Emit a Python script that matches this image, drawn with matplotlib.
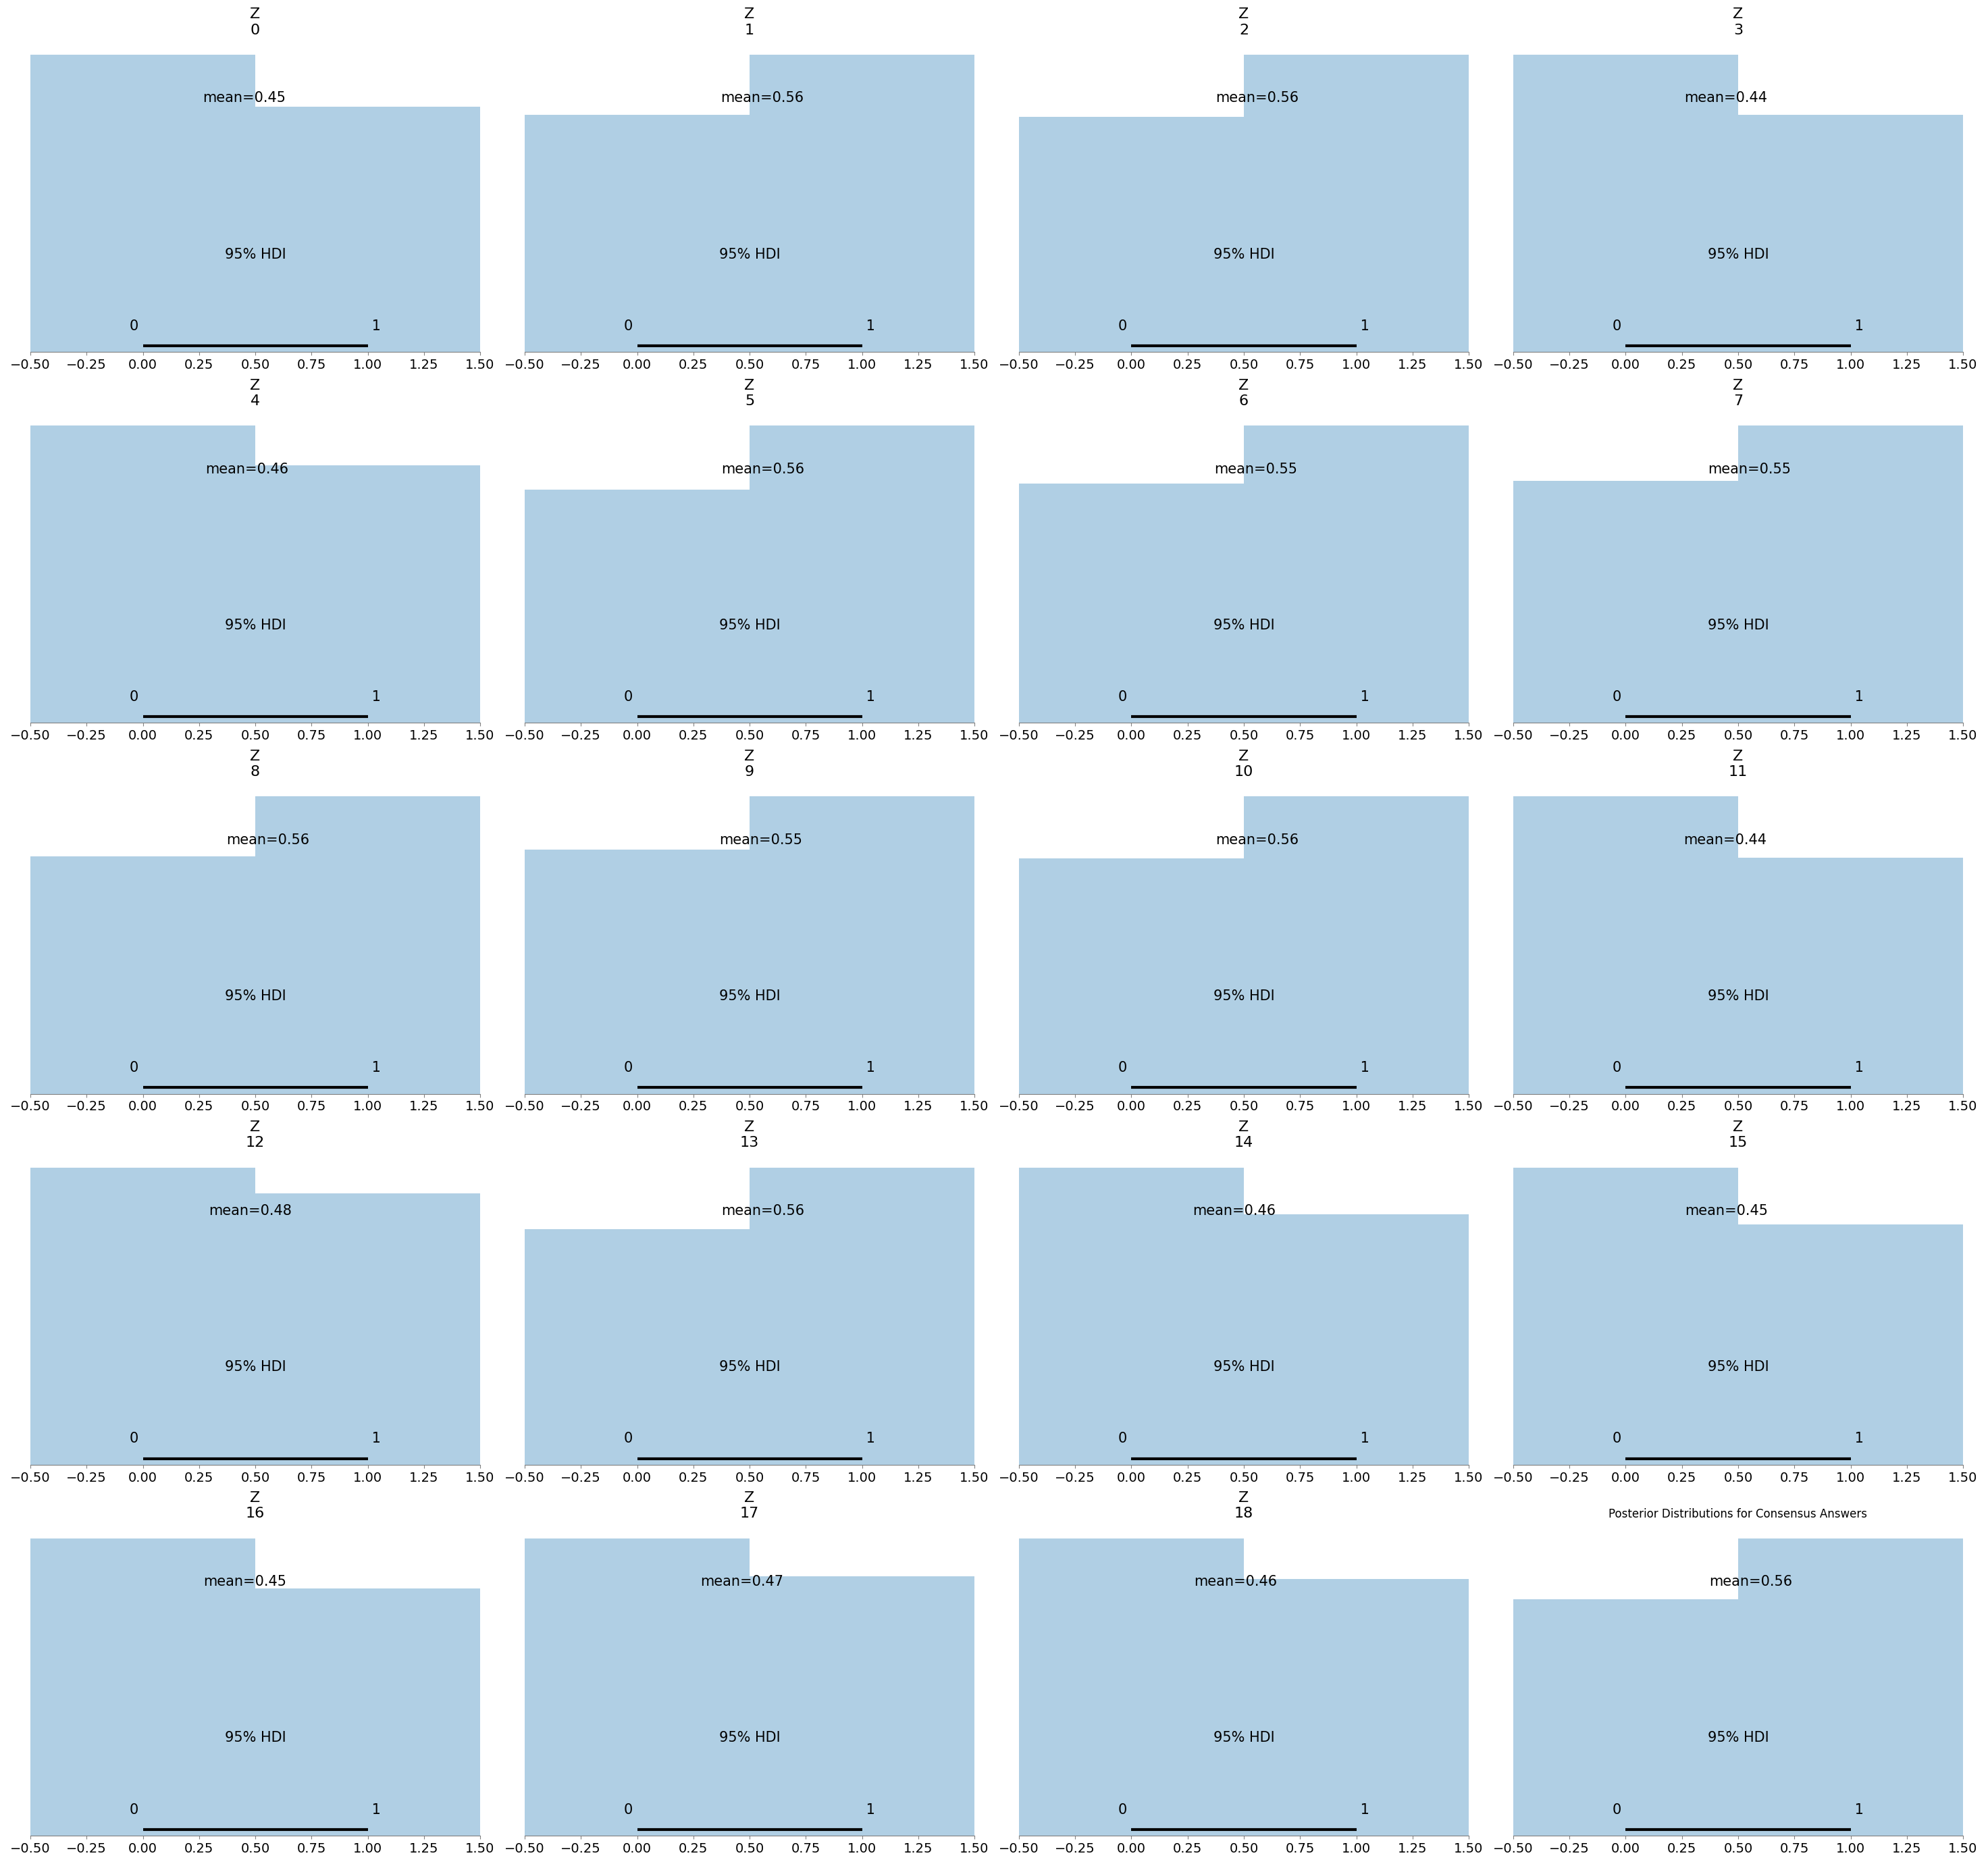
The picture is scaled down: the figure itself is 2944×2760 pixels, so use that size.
import matplotlib
matplotlib.use("Agg")
import matplotlib.pyplot as plt
import numpy as np

# ---- data ----
var_name = "Z"
indices = list(range(20))
# posterior share of Z=1 (= posterior mean)
means = [0.452, 0.556, 0.558, 0.444, 0.464, 0.560, 0.554, 0.551, 0.556, 0.549,
         0.558, 0.443, 0.477, 0.558, 0.457, 0.447, 0.454, 0.466, 0.463, 0.557]
values = [0, 1]
bin_edges = [-0.5, 0.5, 1.5]
hdi_low = [0] * 20
hdi_high = [1] * 20
hdi_prob = 95
xticks = [-0.5, -0.25, 0.0, 0.25, 0.5, 0.75, 1.0, 1.25, 1.5]
final_title = "Posterior Distributions for Consensus Answers"

W, H = 2944, 2760
fig, axes = plt.subplots(5, 4, figsize=(29.44, 27.6), dpi=100)
ax_w = 666
ax_h = 462
fig.subplots_adjust(left=45 / W, right=2907 / W, bottom=1 - 2718 / H, top=1 - 59 / H,
                    wspace=66 / ax_w, hspace=(549 - ax_h) / ax_h)

labelsize = 15
titlesize = 16
ticksize = 14
lw = 1.5

for i, ax in enumerate(axes.flat):
    m = means[i]
    ax.hist(values, bins=bin_edges, weights=[1 - m, m], histtype="stepfilled",
            color="C0", alpha=0.35, lw=0)
    top = ax.get_ylim()[1]
    ax.text(m, top * 0.8, f"mean={m:.2f}", size=labelsize, ha="center")
    lo, hi = hdi_low[i], hdi_high[i]
    ax.plot([lo, hi], [top * 0.02, top * 0.02], lw=lw * 2, color="k", solid_capstyle="butt")
    ax.text(lo, top * 0.07, f"{lo} ", size=labelsize, ha="right")
    ax.text(hi, top * 0.07, f" {hi}", size=labelsize, ha="left")
    ax.text((lo + hi) / 2, top * 0.3, f"{hdi_prob}% HDI", size=labelsize, ha="center")
    ax.set_xticks(xticks)
    ax.set_xlim(bin_edges[0], bin_edges[-1])
    ax.tick_params(axis="x", labelsize=ticksize, color="gray")
    ax.yaxis.set_ticks([])
    for s in ["left", "right", "top"]:
        ax.spines[s].set_visible(False)
    ax.spines["bottom"].set_color("gray")
    ax.set_title(f"{var_name}\n{indices[i]}", fontsize=titlesize)

axes.flat[-1].set_title(final_title)

fig.savefig("out.png", dpi=100)
